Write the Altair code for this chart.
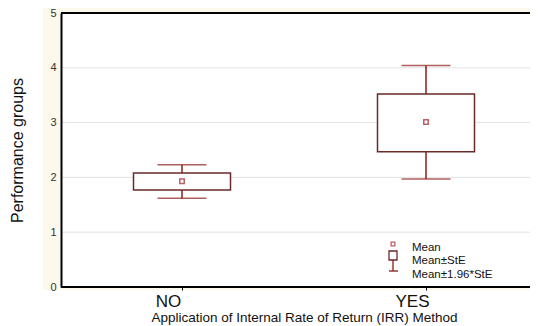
import altair as alt
import pandas as pd

groups = ["NO", "YES"]
means = [1.93, 3.01]
ste_lo = [1.77, 2.47]
ste_hi = [2.08, 3.52]
ci_lo = [1.62, 1.97]
ci_hi = [2.23, 4.04]

y_ticks = [0, 1, 2, 3, 4, 5]
grid_vals = [1, 2, 3, 4]
legend_labels = ["Mean", "Mean±StE", "Mean±1.96*StE"]

df = pd.DataFrame({
    "group": groups, "mean": means, "ste_lo": ste_lo, "ste_hi": ste_hi,
    "ci_lo": ci_lo, "ci_hi": ci_hi,
})
grid_df = pd.DataFrame({"g": grid_vals})
one = pd.DataFrame({"k": [0]})

W, H = 469, 274
FONT = "Liberation Sans"
RED = "#8E1B1B"
BOX = "#6A2A2A"

xenc = alt.X("group:N", scale=alt.Scale(type="point", domain=groups, range=[121, 365], padding=0),
             axis=alt.Axis(title="Application of Internal Rate of Return (IRR) Method",
                           labelFontSize=17, labelColor="#111", labelAngle=0, labelPadding=3,
                           labelOffset=-14,
                           titleFontSize=13.5, titleFontWeight="normal", titleColor="#111", titlePadding=1,
                           domain=False, tickColor="black", tickSize=3,
                           grid=False, labelFont=FONT, titleFont=FONT, zindex=1))
yscale = alt.Scale(domain=[0, 5], nice=False, zero=True)
yaxis = alt.Axis(title="Performance groups", values=y_ticks, format="d",
                 labelFontSize=11, labelColor="#333", labelPadding=5,
                 titleFontSize=16, titleFontWeight="normal", titleColor="#111", titlePadding=24,
                 domainColor="black", domainWidth=2, tickSize=0,
                 grid=False, labelFont=FONT, titleFont=FONT, zindex=1)

base = alt.Chart(df)

cream = alt.Chart(one).mark_rect(color="#FDF8EC").encode(
    x=alt.value(-18), x2=alt.value(W), y=alt.value(-5), y2=alt.value(H + 3))
white = alt.Chart(one).mark_rect(color="white").encode(
    x=alt.value(0), x2=alt.value(W), y=alt.value(0), y2=alt.value(H))

axis_layer = base.mark_point(opacity=0).encode(
    x=xenc, y=alt.Y("mean:Q", scale=yscale, axis=yaxis))

grid = alt.Chart(grid_df).mark_rule(color="#e3e3e3", strokeWidth=1).encode(
    y=alt.Y("g:Q", scale=yscale), x=alt.value(0), x2=alt.value(W))

whisk_lo = base.mark_rule(color=RED, strokeWidth=1.5).encode(
    x="group:N", y=alt.Y("ci_lo:Q", scale=yscale), y2="ste_lo:Q")
whisk_hi = base.mark_rule(color=RED, strokeWidth=1.5).encode(
    x="group:N", y=alt.Y("ste_hi:Q", scale=yscale), y2="ci_hi:Q")
cap_lo = base.mark_tick(color=RED, orient="horizontal", size=49, thickness=1.5).encode(
    x="group:N", y=alt.Y("ci_lo:Q", scale=yscale))
cap_hi = base.mark_tick(color=RED, orient="horizontal", size=49, thickness=1.5).encode(
    x="group:N", y=alt.Y("ci_hi:Q", scale=yscale))
box = base.mark_bar(size=97, fill="white", stroke=BOX, strokeWidth=1.5).encode(
    x="group:N", y=alt.Y("ste_lo:Q", scale=yscale), y2="ste_hi:Q")
mean_pt = base.mark_point(shape="square", size=20, filled=False, color="#A01E24", strokeWidth=1.5).encode(
    x="group:N", y=alt.Y("mean:Q", scale=yscale))

top_line = alt.Chart(one).mark_rule(color="black", strokeWidth=2).encode(
    x=alt.value(0), x2=alt.value(W), y=alt.value(0))
bottom_line = alt.Chart(one).mark_rule(color="black", strokeWidth=2).encode(
    x=alt.value(0), x2=alt.value(W), y=alt.value(H))

# legend (drawn inside the plot, as in the reference)
lg_mean = alt.Chart(one).mark_point(shape="square", size=14, filled=False, color="#A01E24", strokeWidth=1.3).encode(
    x=alt.value(332), y=alt.value(231))
lg_box = alt.Chart(one).mark_rect(fill="white", stroke=BOX, strokeWidth=1.3).encode(
    x=alt.value(328), x2=alt.value(336), y=alt.value(238), y2=alt.value(247))
lg_wh = alt.Chart(one).mark_rule(color=RED, strokeWidth=1.3).encode(
    x=alt.value(332), y=alt.value(247), y2=alt.value(258))
lg_cap = alt.Chart(one).mark_rule(color=RED, strokeWidth=1.3).encode(
    x=alt.value(328), x2=alt.value(337), y=alt.value(258))
lg_texts = [
    alt.Chart(one).mark_text(align="left", baseline="middle", fontSize=11.5, font=FONT, color="#111").encode(
        x=alt.value(351), y=alt.value(yy), text=alt.value(t))
    for t, yy in zip(legend_labels, [234.5, 248, 261.5])
]

chart = alt.layer(
    cream, white, grid, axis_layer, whisk_lo, whisk_hi, cap_lo, cap_hi, box, mean_pt,
    top_line, bottom_line,
    lg_mean, lg_box, lg_wh, lg_cap, *lg_texts
).properties(
    width=W, height=H,
    autosize=alt.AutoSizeParams(type="none"),
    padding={"left": 53, "top": 5, "right": 0, "bottom": 39},
    background="white",
).configure_view(stroke=None)

chart.save("out.html", embed_options={"renderer": "svg", "actions": False})
